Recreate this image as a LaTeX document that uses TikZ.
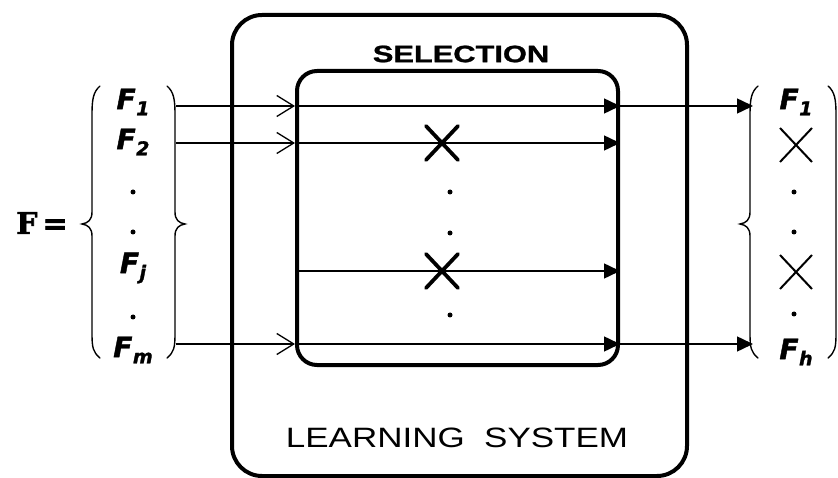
\documentclass[tikz,border=0pt]{standalone}
\usepackage{fontspec}
\usepackage{graphicx}
\setmainfont{DejaVu Sans}
\newfontfamily\ffont{DejaVu Sans}[BoldItalicFeatures={FakeBold=1.5}]
\newfontfamily\slabfont{DejaVu Serif}[BoldFeatures={FakeBold=2}]
\newfontfamily\capfont{Liberation Sans}[BoldFeatures={FakeBold=1}]
\usetikzlibrary{arrows.meta,calc}
\newcommand\Fsub[1]{{\ffont\bfseries\itshape\fontsize{28}{28}\selectfont F\kern0.5pt\raisebox{-0.22em}{\fontsize{19}{19}\selectfont #1}}}
\tikzset{
  box/.style={draw, line width=4pt, rounded corners=#1, inner sep=0pt},
  inarrow/.style={line width=1.4pt, -{Straight Barb[length=17pt,width=21pt,line width=1.3pt]}},
  fullarrow/.style={line width=1.5pt, -{Triangle[length=16pt,width=15pt]}},
  bracepath/.style={line width=1.4pt, line cap=round},
  bigx/.style={line width=3.8pt, line cap=round},
  smallx/.style={line width=2pt},
  lbl/.style={inner sep=0pt, anchor=center},
  dotmark/.style={fill, circle, inner sep=0pt, minimum size=5pt}
}
\begin{document}
\begin{tikzpicture}[x=1pt,y=-1pt]
\useasboundingbox (0,0) rectangle (838,478);

% boxes
\node[box=30pt, minimum width=455pt, minimum height=461pt] (ls) at (459.5,245.5) {};
\node[box=20pt, minimum width=321pt, minimum height=294pt] (sel) at (457.5,218) {};

% titles
\node[lbl] (seltitle) at (461,54) {\capfont\bfseries\fontsize{23.7}{24}\selectfont\scalebox{1.3}[1]{SELECTION}};
\node[lbl] (lstitle) at (457,438) {\capfont\fontsize{28}{28}\selectfont\scalebox{1.25}[1]{LEARNING\ \ SYSTEM}};

% left set
\node[lbl] (Feq) at (42,223) {\slabfont\bfseries\fontsize{30}{30}\selectfont F\,=};
\draw[bracepath] (100,86) .. controls (93,92) and (92,100) .. (92,115) -- (92,212) .. controls (92,220) and (88,223) .. (82,224) .. controls (88,225) and (92,228) .. (92,236) -- (92,333) .. controls (92,348) and (93,352) .. (100,358);
\draw[bracepath] (167,86) .. controls (174,92) and (175,100) .. (175,115) -- (175,212) .. controls (175,220) and (179,223) .. (185,224) .. controls (179,225) and (175,228) .. (175,236) -- (175,333) .. controls (175,348) and (174,352) .. (167,358);
\node[lbl] (lF1) at (133,102) {\Fsub{1}};
\node[lbl] (lF2) at (133,142) {\Fsub{2}};
\node[dotmark] (ld1) at (133,192) {};
\node[dotmark] (ld2) at (133,232) {};
\node[lbl] (lFj) at (133,268) {\Fsub{j}};
\node[dotmark] (ld3) at (133,317) {};
\node[lbl] (lFm) at (133,350) {\Fsub{m}};

% right set
\draw[bracepath] (758,86) .. controls (751,92) and (750,100) .. (750,115) -- (750,212) .. controls (750,220) and (746,223) .. (740,224) .. controls (746,225) and (750,228) .. (750,236) -- (750,333) .. controls (750,348) and (751,352) .. (758,358);
\draw[bracepath] (828,86) .. controls (835,92) and (836,100) .. (836,115) -- (836,333) .. controls (836,348) and (835,352) .. (828,358);
\node[lbl] (rF1) at (796,102) {\Fsub{1}};
\coordinate (rx1) at (796,145);
\draw[smallx] ($(rx1)+(-16,-17)$) -- ($(rx1)+(16,17)$) ($(rx1)+(16,-17)$) -- ($(rx1)+(-16,17)$);
\node[dotmark] (rd1) at (794,192) {};
\node[dotmark] (rd2) at (794,232) {};
\coordinate (rx2) at (796,272);
\draw[smallx] ($(rx2)+(-16,-17)$) -- ($(rx2)+(16,17)$) ($(rx2)+(16,-17)$) -- ($(rx2)+(-16,17)$);
\node[dotmark] (rd3) at (794,314) {};
\node[lbl] (rFh) at (796,352) {\Fsub{h}};

% rows
\coordinate (a1) at (176,106);
\coordinate (a2) at (176,143);
\coordinate (aj) at (176,271);
\coordinate (am) at (176,344);
\coordinate (o1) at (753,106);
\coordinate (om) at (753,344);

\draw[inarrow] (a1) -- (a1 -| sel.west);
\draw[inarrow] (a2) -- (a2 -| sel.west);
\draw[inarrow] (am) -- (am -| sel.west);

\draw[fullarrow] (a1 -| sel.west) -- (a1 -| sel.east);
\draw[fullarrow] (a2 -| sel.west) -- (a2 -| sel.east);
\draw[fullarrow] (aj -| sel.west) -- (aj -| sel.east);
\draw[fullarrow] (am -| sel.west) -- (am -| sel.east);

\draw[fullarrow] (a1 -| sel.east) -- (o1);
\draw[fullarrow] (am -| sel.east) -- (om);

% crosses and dots in selection box
\coordinate (x1) at (442,143);
\coordinate (x2) at (442,271);
\draw[bigx] ($(x1)+(-16,-17)$) -- ($(x1)+(16,17)$) ($(x1)+(16,-17)$) -- ($(x1)+(-16,17)$);
\draw[bigx] ($(x2)+(-16,-17)$) -- ($(x2)+(16,17)$) ($(x2)+(16,-17)$) -- ($(x2)+(-16,17)$);
\node[dotmark] (md1) at (450,192) {};
\node[dotmark] (md2) at (450,233) {};
\node[dotmark] (md3) at (450,315) {};
\end{tikzpicture}
\end{document}
